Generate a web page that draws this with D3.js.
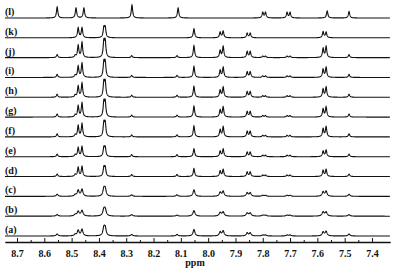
<!DOCTYPE html>
<html>
<head>
<meta charset="utf-8">
<script src="https://cdn.jsdelivr.net/npm/d3@7"></script>
<style>
  body { margin: 0; background: #fff; }
  text { font-family: "Liberation Serif", "Times New Roman", serif; font-weight: bold; fill: #111; }
  .spec { fill: none; stroke: #111; stroke-width: 1.1; }
  .axis path, .axis line { stroke: #111; }
</style>
</head>
<body>
<div id="chart"></div>
<script>
// rows, bottom to top
let rowLabels = ["(a)", "(b)", "(c)", "(d)", "(e)", "(f)", "(g)", "(h)", "(i)", "(j)", "(k)", "(l)"];

// chemical shifts (ppm) of the mixture lines
let mixShifts = [8.553, 8.487, 8.476, 8.462, 8.382, 8.377, 8.280, 8.114, 8.052, 7.956, 7.945,
  7.857, 7.846, 7.800, 7.790, 7.711, 7.700, 7.579, 7.568, 7.484];

// intensities per spectrum (a)..(k) on mixShifts
let intA = [2, 1.5, 5.5, 6.5, 7.5, 7.5, 1.5, 1.5, 6.5, 4, 5, 3, 3, 1, 1, 1, 1, 4, 4.5, 2];
let intB = [1.5, 1.5, 4.5, 5.5, 6, 6, 1.5, 1, 5.5, 3.5, 4, 3, 3, 1, 1, 1, 1, 4, 4, 1.5];
let intC = [2, 1.5, 6, 7, 7, 7, 1.5, 1.5, 6.5, 4, 5, 3.5, 3.5, 1, 1, 1, 1, 4.5, 5, 2];
let intD = [2.5, 2, 9, 10, 8.5, 8.5, 2, 2, 8, 5.5, 7, 4.5, 4.5, 1.5, 1.5, 1.5, 1.5, 6, 7, 2.5];
let intE = [2.5, 2, 9, 10, 8.5, 8.5, 2, 2, 8, 5.5, 7.5, 4.5, 4.5, 1.5, 1.5, 1.5, 1.5, 5.5, 6.5, 2.5];
let intF = [3, 2, 11, 13, 13, 13, 2, 2, 11, 7, 10, 5.5, 5.5, 1.5, 1.5, 1.5, 1.5, 8, 10, 3];
let intG = [3, 2, 11, 14, 14, 14, 2, 2, 11, 7, 10, 5.5, 5.5, 1.5, 1.5, 1.5, 1.5, 8, 10, 3];
let intH = [3, 2, 11, 14, 14, 14, 2, 2, 11, 7, 10, 5.5, 5.5, 1.5, 1.5, 1.5, 1.5, 8, 10, 3];
let intI = [3, 2, 11, 14, 14, 14, 2, 2, 11, 7, 10, 5.5, 5.5, 1.5, 1.5, 1.5, 1.5, 8, 10, 3];
let intJ = [3, 2, 12, 15, 15, 15, 2, 2, 12, 7, 11, 6, 6, 1.5, 1.5, 1.5, 1.5, 9, 11, 3];
let intK = [0, 0, 10, 10, 9.5, 9.5, 0, 0, 9, 5.5, 6.5, 4.5, 4.5, 0, 0, 0, 0, 6, 5.5, 0];

// pure component (l)
let lShifts = [8.553, 8.484, 8.455, 8.279, 8.110, 7.800, 7.790, 7.711, 7.700, 7.564, 7.484];
let intL = [11, 10, 10, 13, 10, 5.5, 5.5, 5.5, 5.5, 7, 6.5];

// line half widths (ppm) per spectrum
let halfWidths = [0.004, 0.0045, 0.004, 0.003, 0.003, 0.003, 0.003, 0.003, 0.003, 0.003, 0.003, 0.003];

let tickLabels = [8.7, 8.6, 8.5, 8.4, 8.3, 8.2, 8.1, 8.0, 7.9, 7.8, 7.7, 7.6, 7.5, 7.4];

let width = 397, height = 275;

let spectra = [intA, intB, intC, intD, intE, intF, intG, intH, intI, intJ, intK].map((ints, i) => ({
  label: rowLabels[i],
  peaks: mixShifts.map((s, j) => ({ shift: s, amp: ints[j] })).filter((p) => p.amp > 0),
  hw: halfWidths[i],
}));
spectra.push({
  label: rowLabels[11],
  peaks: lShifts.map((s, j) => ({ shift: s, amp: intL[j] })),
  hw: halfWidths[11],
});

let svg = d3.select("#chart").append("svg").attr("width", width).attr("height", height);

let xScale = d3.scaleLinear().domain([8.744, 7.334]).range([5, 390]);
let yRow = d3.scalePoint().domain(rowLabels).range([236, 18]);
let yInt = d3.scaleLinear().domain([0, 10]).range([0, -10]);

let grid = d3.range(8.744, 7.334, -0.0005);

function lineShape(ppm, s) {
  let v = 0;
  s.peaks.forEach((p) => {
    let d = (ppm - p.shift) / s.hw;
    v += p.amp / (1 + d * d);
  });
  return v;
}

let line = d3.line()
  .x((d) => xScale(d.ppm))
  .y((d) => d.y);

spectra.forEach((s) => {
  let base = yRow(s.label);
  let pts = grid.map((ppm) => ({ ppm: ppm, y: base + yInt(lineShape(ppm, s)) }));
  svg.append("path").attr("class", "spec").attr("d", line(pts));
  svg.append("text")
    .attr("x", 5)
    .attr("y", base - 3)
    .style("font-size", "10px")
    .text(s.label);
});

// minor ticks
let minorAxis = d3.axisBottom(xScale)
  .tickValues(tickLabels.slice(0, -1).map((t) => t - 0.05))
  .tickSize(-2)
  .tickSizeOuter(0)
  .tickFormat("");
svg.append("g").attr("class", "axis")
  .attr("transform", "translate(0,242)")
  .call(minorAxis);

let xAxis = d3.axisBottom(xScale)
  .tickValues(tickLabels)
  .tickSize(-4)
  .tickSizeOuter(0)
  .tickPadding(8)
  .tickFormat(d3.format(".1f"));

let xAxisEl = svg.append("g").attr("class", "axis")
  .attr("transform", "translate(0,242)")
  .call(xAxis);
xAxisEl.select(".domain").attr("stroke-width", 1.5);
xAxisEl.selectAll("text").style("font-size", "10px").attr("font-family", null);

svg.append("text")
  .attr("x", 195)
  .attr("y", 266)
  .attr("text-anchor", "middle")
  .style("font-size", "10px")
  .text("ppm");
</script>
</body>
</html>
